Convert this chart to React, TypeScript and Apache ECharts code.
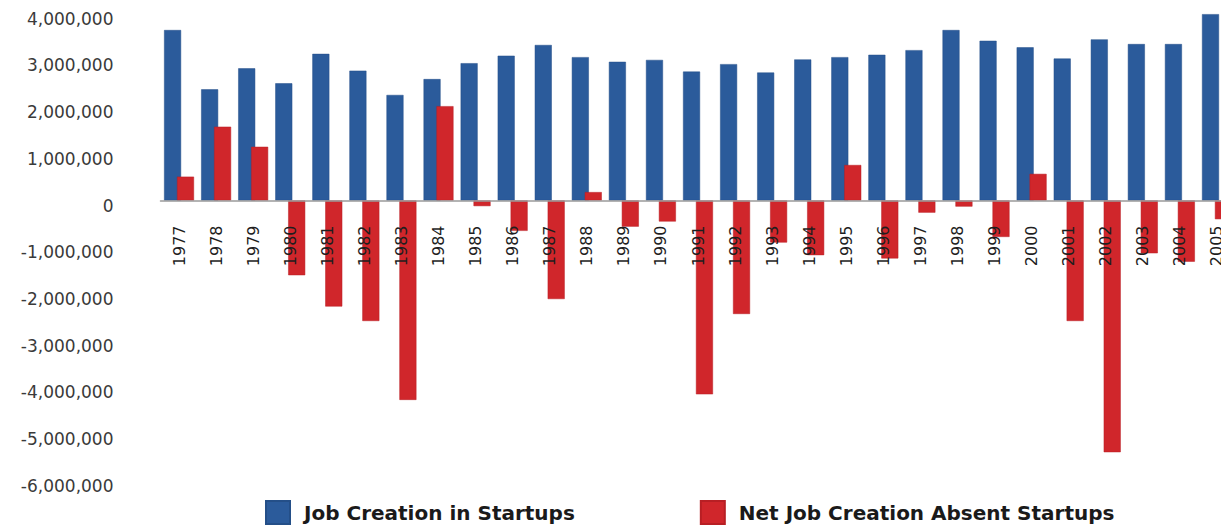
import React, { useEffect, useRef } from "react";
import * as echarts from "echarts";

const years = [
  "1977", "1978", "1979", "1980", "1981", "1982", "1983", "1984", "1985", "1986",
  "1987", "1988", "1989", "1990", "1991", "1992", "1993", "1994", "1995", "1996",
  "1997", "1998", "1999", "2000", "2001", "2002", "2003", "2004", "2005",
];

const startupJobs = [
  3650000, 2380000, 2830000, 2510000, 3140000, 2780000, 2260000, 2600000, 2940000, 3100000,
  3330000, 3070000, 2970000, 3010000, 2760000, 2920000, 2740000, 3020000, 3070000, 3120000,
  3220000, 3650000, 3420000, 3280000, 3040000, 3450000, 3350000, 3350000, 3990000,
];

const netAbsentStartups = [
  510000, 1580000, 1150000, -1600000, -2270000, -2580000, -4270000, 2020000, -120000, -650000,
  -2110000, 180000, -560000, -450000, -4150000, -2430000, -900000, -1170000, 760000, -1240000,
  -260000, -130000, -780000, 570000, -2580000, -5390000, -1130000, -1310000, -400000,
];

const seriesNames = ["Job Creation in Startups", "Net Job Creation Absent Startups"];
const yMin = -6000000;
const yMax = 4000000;
const yStep = 1000000;

const GRID_TOP = 13.7;
const GRID_BOTTOM = 46.3;
const CHART_H = 527;

export default function App() {
  const ref = useRef<HTMLDivElement>(null);

  useEffect(() => {
    if (!ref.current) return;
    const chart = echarts.init(ref.current, undefined, { renderer: "svg" });
    const plotH = CHART_H - GRID_TOP - GRID_BOTTOM;
    const zeroFromBottom = (plotH * (0 - yMin)) / (yMax - yMin);
    chart.setOption({
      animation: false,
      backgroundColor: "#ffffff",
      grid: {
        left: 160.5,
        right: -14.5,
        top: GRID_TOP,
        bottom: GRID_BOTTOM,
        containLabel: false,
        outerBoundsMode: "none",
      },
      legend: {
        left: 265,
        top: 500,
        padding: 0,
        icon: "rect",
        itemWidth: 24,
        itemHeight: 23,
        itemGap: 125,
        textStyle: {
          fontFamily: "DejaVu Sans",
          fontWeight: "bold",
          fontSize: 20,
          color: "#1a1a1a",
          padding: [0, 0, 0, 9],
        },
        data: seriesNames,
      },
      xAxis: {
        type: "category",
        data: years,
        z: 5,
        position: "bottom",
        offset: -zeroFromBottom,
        axisLine: { show: true, onZero: false, lineStyle: { color: "#9a9a9a", width: 1.5 } },
        axisTick: { show: false },
        axisLabel: {
          rotate: 90,
          margin: 25,
          interval: 0,
          fontFamily: "DejaVu Sans",
          fontSize: 16,
          color: "#1e1e1e",
        },
      },
      yAxis: {
        type: "value",
        min: yMin,
        max: yMax,
        interval: yStep,
        splitLine: { show: false },
        axisLine: { show: false },
        axisTick: { show: false },
        axisLabel: {
          margin: 47,
          formatter: (v: number) => "{t|" + v.toLocaleString("en-US") + "}",
          rich: {
            t: {
              fontFamily: "DejaVu Sans",
              fontSize: 17,
              color: "#3a3a3a",
              padding: [10, 0, 0, 0],
            },
          },
        },
      },
      series: [
        {
          name: seriesNames[0],
          type: "bar",
          data: startupJobs,
          barWidth: 17,
          barGap: "-24%",
          itemStyle: { color: "#2b5b9b", borderColor: "#244f88", borderWidth: 0.5 },
        },
        {
          name: seriesNames[1],
          type: "bar",
          data: netAbsentStartups,
          barWidth: 17,
          barGap: "-24%",
          itemStyle: { color: "#d0262b", borderColor: "#b81f24", borderWidth: 0.5 },
        },
      ],
    });
    return () => chart.dispose();
  }, []);

  return (
    <div
      ref={ref}
      style={{ position: "fixed", left: 0, top: 0, width: 1221, height: 527, overflow: "hidden" }}
    />
  );
}
